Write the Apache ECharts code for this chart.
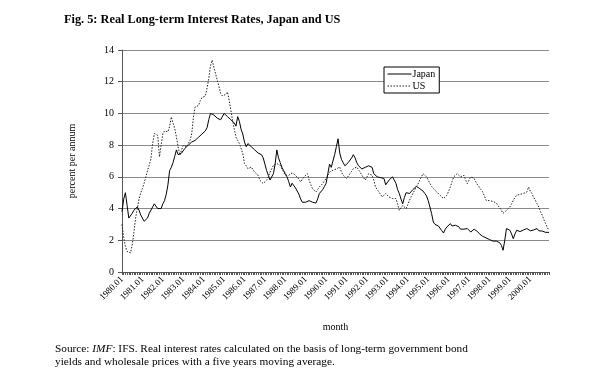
<!DOCTYPE html>
<html>
<head>
<meta charset="utf-8">
<script src="https://cdn.jsdelivr.net/npm/echarts@6/dist/echarts.min.js"></script>
<style>
  html, body { margin: 0; padding: 0; background: #fff; }
  #chart { width: 595px; height: 377px; }
</style>
</head>
<body>
<div id="chart"></div>
<script>
// years shown on the axis, one category per month
var years = [1980, 1981, 1982, 1983, 1984, 1985, 1986, 1987, 1988, 1989, 1990,
  1991, 1992, 1993, 1994, 1995, 1996, 1997, 1998, 1999, 2000];
var monthTags = ['01', '02', '03', '04', '05', '06', '07', '08', '09', '10', '11', '12'];

// real long-term rates, percent per annum, monthly 1980.01 - 2000.12
var japan = [
  3.8, 4.6, 5.0, 4.2, 3.4, 3.5, 3.7, 3.9, 3.8, 4.1, 3.9, 3.6,
  3.5, 3.2, 3.1, 3.4, 3.7, 3.8, 4.1, 4.3, 4.2, 4.0, 3.9, 4.0,
  4.3, 4.5, 4.9, 5.5, 6.4, 6.6, 6.9, 7.3, 7.7, 7.4, 7.3, 7.5,
  7.6, 7.8, 7.9, 8.0, 8.1, 8.2, 8.3, 8.3, 8.4, 8.5, 8.6, 8.7,
  8.8, 8.9, 9.1, 9.6, 10.0, 9.9, 9.9, 9.8, 9.7, 9.6, 9.6, 9.6,
  10.0, 9.9, 9.8, 9.7, 9.6, 9.5, 9.4, 9.2, 9.8, 9.5, 9.0, 8.7,
  8.2, 7.9, 8.1, 8.1, 7.9, 7.8, 7.7, 7.6, 7.5, 7.5, 7.4, 7.2,
  6.8, 6.4, 6.1, 5.8, 5.9, 6.2, 6.8, 7.7, 7.2, 6.9, 6.6, 6.4,
  6.2, 6.0, 5.7, 5.36, 5.6, 5.5, 5.3, 5.2, 4.9, 4.6, 4.4, 4.3,
  4.4, 4.4, 4.5, 4.5, 4.4, 4.4, 4.35, 4.6, 4.95, 5.0, 5.2, 5.4,
  5.6, 6.2, 6.8, 6.6, 7.0, 7.4, 7.9, 8.4, 7.5, 7.1, 6.9, 6.7,
  6.7, 6.9, 7.0, 7.2, 7.4, 7.2, 6.9, 6.7, 6.6, 6.5, 6.5, 6.6,
  6.6, 6.7, 6.7, 6.6, 6.2, 6.1, 6.0, 6.0, 5.95, 5.95, 5.9, 5.5,
  5.5, 5.8, 5.8, 6.0, 5.8, 5.6, 5.2, 4.95, 4.6, 4.3, 4.7, 5.0,
  5.05, 4.95, 5.0, 5.2, 5.3, 5.4, 5.35, 5.26, 5.2, 5.1, 4.95, 4.8,
  4.5, 4.1, 3.68, 3.15, 3.0, 2.95, 2.9, 2.84, 2.6, 2.46, 2.7, 2.84,
  2.95, 3.05, 2.9, 2.88, 2.95, 3.05, 2.85, 2.7, 2.63, 2.7, 2.75, 2.74,
  2.65, 2.52, 2.6, 2.7, 2.74, 2.55, 2.42, 2.35, 2.25, 2.21, 2.15, 2.1,
  2.05, 2.0, 1.95, 1.89, 1.95, 2.0, 1.85, 1.68, 1.37, 2.0, 2.74, 2.7,
  2.63, 2.4, 2.1, 2.4, 2.63, 2.6, 2.55, 2.59, 2.65, 2.7, 2.74, 2.65,
  2.6, 2.59, 2.65, 2.7, 2.74, 2.6, 2.52, 2.58, 2.63, 2.5, 2.42, 2.5
];
var us = [
  3.0, 2.2, 1.6, 1.3, 1.2, 1.2, 1.7, 2.5, 3.4, 4.0, 4.6, 5.0,
  5.26, 5.6, 6.0, 6.4, 6.73, 7.15, 8.1, 8.73, 8.7, 8.62, 7.26, 8.0,
  8.73, 8.9, 8.85, 8.84, 9.2, 9.78, 9.4, 9.05, 8.5, 7.9, 7.36, 7.7,
  8.0, 7.95, 7.9, 8.0, 8.3, 8.73, 9.78, 10.4, 10.45, 10.5, 10.8, 11.0,
  11.05, 11.1, 11.6, 12.2, 13.0, 13.36, 12.9, 12.5, 12.1, 11.7, 11.26, 11.1,
  11.0, 11.2, 11.36, 10.83, 10.2, 9.57, 9.0, 8.5, 8.3, 8.1, 7.8, 7.47,
  6.84, 6.7, 6.52, 6.55, 6.62, 6.45, 6.3, 6.2, 6.1, 5.79, 5.7, 5.58,
  5.65, 5.79, 6.0, 6.3, 6.5, 6.73, 6.8, 6.84, 6.8, 6.73, 6.5, 6.3,
  6.1, 6.0, 6.1, 6.2, 6.25, 6.25, 6.1, 6.0, 5.85, 5.68, 5.85, 6.0,
  6.1, 6.2, 5.79, 5.5, 5.26, 5.15, 5.05, 5.2, 5.36, 5.45, 5.58, 5.75,
  5.9, 6.1, 6.3, 6.35, 6.42, 6.45, 6.5, 6.55, 6.62, 6.3, 6.1, 6.0,
  5.9, 6.05, 6.2, 6.35, 6.52, 6.6, 6.62, 6.45, 6.3, 6.1, 5.95, 5.79,
  6.0, 6.2, 6.15, 6.1, 5.8, 5.36, 5.2, 5.05, 4.95, 4.73, 4.85, 4.95,
  4.85, 4.73, 4.7, 4.63, 4.63, 4.63, 4.3, 3.89, 4.05, 4.2, 4.1, 4.0,
  4.25, 4.52, 4.75, 4.95, 5.15, 5.36, 5.55, 5.79, 6.0, 6.2, 6.1, 6.0,
  5.8, 5.58, 5.4, 5.26, 5.15, 5.05, 4.95, 4.84, 4.75, 4.63, 4.75, 4.84,
  5.1, 5.36, 5.7, 6.0, 6.1, 6.2, 6.1, 6.0, 6.05, 6.1, 5.8, 5.58,
  5.8, 6.0, 6.1, 5.9, 5.68, 5.5, 5.36, 5.2, 5.05, 4.8, 4.52, 4.5,
  4.5, 4.45, 4.45, 4.4, 4.35, 4.2, 4.05, 3.89, 3.7, 3.58, 3.89, 4.0,
  4.1, 4.3, 4.52, 4.7, 4.84, 4.85, 4.9, 4.9, 4.95, 5.0, 5.05, 5.36,
  5.1, 4.95, 4.7, 4.52, 4.3, 4.1, 3.8, 3.58, 3.3, 3.05, 2.8, 2.63
];

var months = [];
years.forEach(function (y) {
  monthTags.forEach(function (m) { months.push(y + '.' + m); });
});

var serif = '"Liberation Serif", "Times New Roman", serif';

var chart = echarts.init(document.getElementById('chart'));
chart.setOption({
  animation: false,
  backgroundColor: '#fff',
  textStyle: { fontFamily: serif, color: '#000' },
  title: {
    text: 'Fig. 5: Real Long-term Interest Rates, Japan and US',
    left: 59, top: 9,
    textStyle: { fontFamily: serif, fontSize: 12.3, fontWeight: 'bold', color: '#000' }
  },
  legend: {
    left: 384, top: 67,
    orient: 'vertical',
    itemWidth: 24, itemHeight: 10, itemGap: 2,
    padding: [2, 4, 2, 3],
    backgroundColor: '#fff',
    borderColor: '#000', borderWidth: 1,
    itemStyle: { opacity: 0 },
    lineStyle: { width: 1 },
    textStyle: { fontFamily: serif, fontSize: 10, color: '#000', padding: [0, 0, 0, -4] },
    data: ['Japan', 'US']
  },
  grid: { left: 122, right: 46, top: 50, bottom: 105 },
  xAxis: {
    type: 'category',
    data: months,
    boundaryGap: false,
    name: 'month',
    nameLocation: 'middle',
    nameGap: 50,
    nameTextStyle: { fontFamily: serif, fontSize: 10, color: '#000' },
    axisLine: { lineStyle: { color: '#555', width: 1 } },
    axisTick: { show: true, interval: 0, length: 3, lineStyle: { color: '#555' } },
    axisLabel: {
      interval: 11, rotate: 45, fontFamily: serif, fontSize: 9, color: '#000', margin: 6
    },
    splitLine: { show: false }
  },
  yAxis: {
    type: 'value',
    min: 0, max: 14, interval: 2,
    name: 'percent per annum',
    nameLocation: 'middle',
    nameGap: 45,
    nameTextStyle: { fontFamily: serif, fontSize: 10, color: '#000' },
    axisLine: { show: true, lineStyle: { color: '#555', width: 1 } },
    axisTick: { show: true, length: 4, lineStyle: { color: '#555' } },
    axisLabel: { fontFamily: serif, fontSize: 10, color: '#000', margin: 8 },
    splitLine: { show: true, lineStyle: { color: '#8a8a8a', width: 1 } }
  },
  series: [
    {
      name: 'Japan', type: 'line', data: japan,
      symbol: 'none',
      itemStyle: { color: '#000' },
      lineStyle: { color: '#000', width: 1 }
    },
    {
      name: 'US', type: 'line', data: us,
      symbol: 'none',
      itemStyle: { color: '#222' },
      lineStyle: { color: '#222', width: 1, type: [1.5, 1.5] }
    }
  ],
  graphic: [
    {
      type: 'text', left: 55, top: 344,
      style: {
        text: '{n|Source: }{i|IMF}{n|: IFS. Real interest rates calculated on the basis of long-term government bond}',
        rich: {
          n: { fontFamily: serif, fontSize: 11.3, fill: '#000' },
          i: { fontFamily: serif, fontSize: 11.3, fontStyle: 'italic', fill: '#000' }
        }
      }
    },
    {
      type: 'text', left: 55, top: 357,
      style: {
        text: 'yields and wholesale prices with a five years moving average.',
        font: '11.3px ' + serif, fill: '#000'
      }
    }
  ]
});
</script>
</body>
</html>
